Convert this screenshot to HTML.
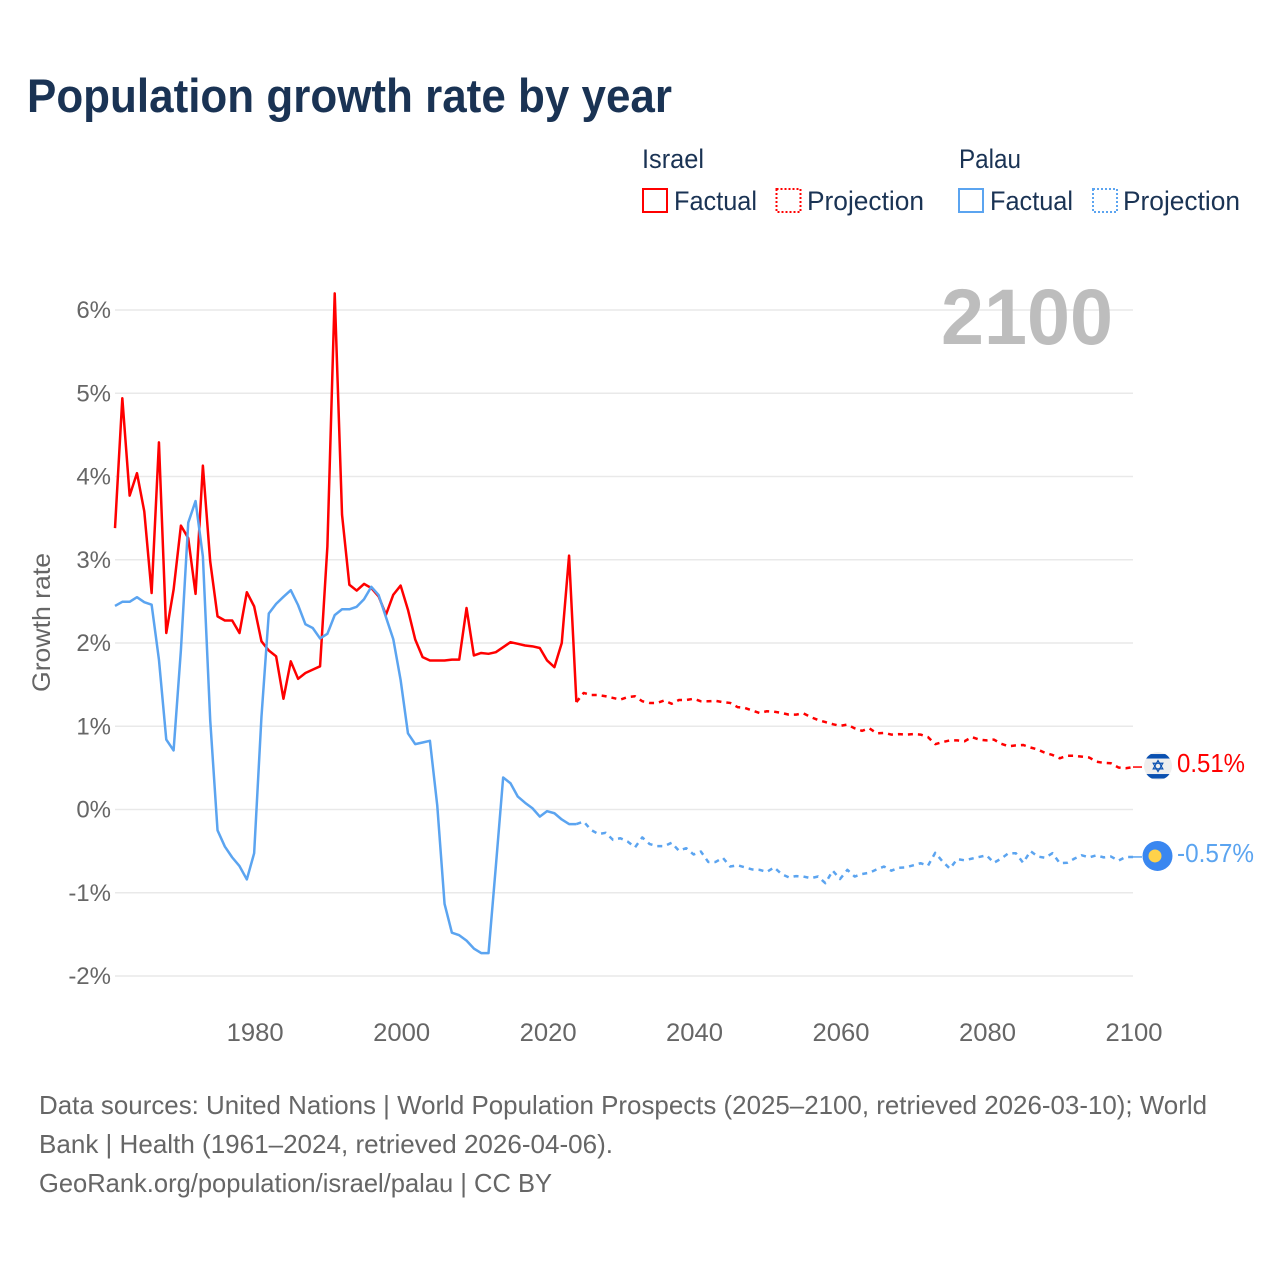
<!DOCTYPE html>
<html lang="en">
<head>
<meta charset="utf-8">
<title>Population growth rate by year</title>
<style>
html,body{margin:0;padding:0;background:#fff;width:1280px;height:1280px;overflow:hidden}
svg{display:block}
text{font-family:"Liberation Sans",sans-serif}
</style>
</head>
<body>
<svg id="chart" xmlns="http://www.w3.org/2000/svg" width="1280" height="1280" viewBox="0 0 1280 1280">
  <rect width="1280" height="1280" fill="#fff"/>
  <text x="27" y="112" font-size="47" font-weight="700" fill="#1a3354" textLength="645" lengthAdjust="spacingAndGlyphs">Population growth rate by year</text>

  <g font-size="27" fill="#1a3354">
    <text x="642" y="168" textLength="62" lengthAdjust="spacingAndGlyphs">Israel</text>
    <rect x="643" y="189" width="24" height="23" fill="none" stroke="#ff0000" stroke-width="2"/>
    <text x="674" y="210" textLength="83" lengthAdjust="spacingAndGlyphs">Factual</text>
    <rect x="776.5" y="189" width="24" height="23" fill="none" stroke="#ff0000" stroke-width="2" stroke-dasharray="2,2"/>
    <text x="807" y="210" textLength="117" lengthAdjust="spacingAndGlyphs">Projection</text>
    <text x="959" y="168" textLength="62" lengthAdjust="spacingAndGlyphs">Palau</text>
    <rect x="959" y="189" width="24" height="23" fill="none" stroke="#5ba4f0" stroke-width="2"/>
    <text x="990" y="210" textLength="83" lengthAdjust="spacingAndGlyphs">Factual</text>
    <rect x="1093" y="189" width="24" height="23" fill="none" stroke="#5ba4f0" stroke-width="2" stroke-dasharray="2,2"/>
    <text x="1123" y="210" textLength="117" lengthAdjust="spacingAndGlyphs">Projection</text>
  </g>

  <g id="grid"></g>
  <g id="y-ticks"></g>
  <g id="x-ticks"></g>
  <text transform="translate(50,692) rotate(-90)" font-size="25" fill="#666" textLength="139" lengthAdjust="spacingAndGlyphs">Growth rate</text>
  <text x="941" y="344" font-size="79" font-weight="700" fill="#bdbdbd" textLength="172" lengthAdjust="spacingAndGlyphs">2100</text>

  <g id="lines"></g>

  <g id="end-israel">
    <line id="conn-israel" x2="1142" stroke="#ff0000" stroke-width="1.5"/>
    <g id="flag-israel">
      <clipPath id="clip-il"><circle cx="0" cy="0" r="14"/></clipPath>
      <circle cx="0" cy="0" r="14" fill="#eeeeee"/>
      <g clip-path="url(#clip-il)">
        <rect x="-15" y="-12" width="30" height="4.5" fill="#0a50b0"/>
        <rect x="-15" y="8" width="30" height="4.5" fill="#0a50b0"/>
      </g>
      <polygon points="0,-5.5 4.8,2.8 -4.8,2.8" fill="none" stroke="#0a50b0" stroke-width="1.2"/>
      <polygon points="0,5.5 4.8,-2.8 -4.8,-2.8" fill="none" stroke="#0a50b0" stroke-width="1.2"/>
    </g>
    <text id="label-israel" x="1177" font-size="26" fill="#ff0000" textLength="68" lengthAdjust="spacingAndGlyphs">0.51%</text>
  </g>
  <g id="end-palau">
    <line id="conn-palau" x2="1142" stroke="#5ba4f0" stroke-width="1.5"/>
    <g id="flag-palau">
      <circle cx="0" cy="0" r="15" fill="#3a87f0"/>
      <circle cx="-2.5" cy="0" r="6.5" fill="#ffd24a"/>
    </g>
    <text id="label-palau" x="1177" font-size="26" fill="#5ba4f0" textLength="77" lengthAdjust="spacingAndGlyphs">-0.57%</text>
  </g>

  <g font-size="26" fill="#666">
    <text x="39" y="1114" textLength="1168" lengthAdjust="spacingAndGlyphs">Data sources: United Nations | World Population Prospects (2025–2100, retrieved 2026-03-10); World</text>
    <text x="39" y="1153" textLength="574" lengthAdjust="spacingAndGlyphs">Bank | Health (1961–2024, retrieved 2026-04-06).</text>
    <text x="39" y="1192" textLength="513" lengthAdjust="spacingAndGlyphs">GeoRank.org/population/israel/palau | CC BY</text>
  </g>
</svg>
<script>
const factualStartYear = 1961;
const projectionStartYear = 2024;
const xTickYears = [1980, 2000, 2020, 2040, 2060, 2080, 2100];
const yTickValues = [-2, -1, 0, 1, 2, 3, 4, 5, 6];

const israelFactual = [3.38,4.94,3.77,4.04,3.58,2.60,4.41,2.12,2.64,3.41,3.26,2.59,4.13,2.98,2.32,2.27,2.27,2.12,2.61,2.44,
  2.02,1.91,1.84,1.33,1.78,1.57,1.64,1.68,1.72,3.16,6.20,3.54,2.70,2.63,2.71,2.66,2.56,2.34,2.58,2.69,
  2.40,2.04,1.83,1.79,1.79,1.79,1.80,1.80,2.42,1.85,1.88,1.87,1.89,1.95,2.01,1.99,1.97,1.96,1.94,1.79,
  1.71,2.00,3.05,1.29];
const israelProjection = [1.29,1.40,1.375,1.375,1.36,1.34,1.32,1.35,1.36,1.30,1.28,1.28,1.31,1.27,1.315,1.315,1.33,1.30,1.30,1.305,
  1.29,1.28,1.23,1.22,1.19,1.16,1.18,1.175,1.16,1.14,1.14,1.155,1.11,1.075,1.05,1.025,1.005,1.02,0.975,0.945,
  0.975,0.915,0.92,0.90,0.905,0.90,0.905,0.90,0.87,0.785,0.81,0.83,0.83,0.82,0.87,0.84,0.83,0.84,0.79,0.76,
  0.77,0.775,0.745,0.72,0.68,0.655,0.615,0.645,0.645,0.635,0.625,0.575,0.56,0.555,0.505,0.495,0.51];
const palauFactual = [2.445,2.495,2.495,2.55,2.49,2.46,1.80,0.84,0.71,1.915,3.445,3.705,3.04,1.075,-0.25,-0.445,-0.575,-0.68,-0.84,-0.525,
  1.115,2.355,2.47,2.555,2.635,2.455,2.225,2.18,2.055,2.11,2.335,2.405,2.405,2.435,2.525,2.675,2.575,2.31,2.045,1.555,
  0.915,0.785,0.805,0.825,0.05,-1.135,-1.48,-1.51,-1.575,-1.67,-1.725,-1.725,-0.685,0.385,0.315,0.155,0.08,0.015,-0.085,-0.02,
  -0.045,-0.12,-0.175,-0.175];
const palauProjection = [-0.175,-0.145,-0.245,-0.295,-0.28,-0.365,-0.345,-0.385,-0.455,-0.335,-0.415,-0.44,-0.44,-0.40,-0.495,-0.465,-0.54,-0.505,-0.63,-0.63,
  -0.58,-0.685,-0.67,-0.695,-0.72,-0.725,-0.75,-0.695,-0.775,-0.815,-0.80,-0.805,-0.825,-0.805,-0.885,-0.735,-0.835,-0.725,-0.805,-0.775,
  -0.76,-0.72,-0.685,-0.735,-0.70,-0.695,-0.67,-0.645,-0.675,-0.52,-0.625,-0.71,-0.595,-0.61,-0.59,-0.57,-0.55,-0.64,-0.59,-0.525,
  -0.525,-0.64,-0.50,-0.565,-0.58,-0.525,-0.645,-0.64,-0.59,-0.55,-0.575,-0.55,-0.575,-0.565,-0.615,-0.57,-0.57];

const SVGNS = 'http://www.w3.org/2000/svg';
function xScale(year) { return 115 + (year - 1961) * (1133 - 115) / (2100 - 1961); }
function yScale(v) { return 809.5 - v * 83.25; }
function pathFor(values, startYear) {
  return values.map(function (v, i) {
    return (i ? 'L' : 'M') + xScale(startYear + i).toFixed(2) + ' ' + yScale(v).toFixed(2);
  }).join(' ');
}

const gridGroup = document.getElementById('grid');
const yTickGroup = document.getElementById('y-ticks');
yTickValues.forEach(function (v) {
  const line = document.createElementNS(SVGNS, 'line');
  
  
  line.setAttribute('x1', xScale(1961));
  line.setAttribute('x2', xScale(2100));
  line.setAttribute('y1', yScale(v));
  line.setAttribute('y2', yScale(v));
  line.setAttribute('stroke', '#e9e9e9');
  line.setAttribute('stroke-width', '1.4');
  gridGroup.appendChild(line);

  const label = document.createElementNS(SVGNS, 'text');
  
  
  label.setAttribute('x', 111);
  label.setAttribute('y', yScale(v) + 8);
  label.setAttribute('text-anchor', 'end');
  label.setAttribute('font-size', '24');
  label.setAttribute('fill', '#666');
  label.textContent = v + '%';
  yTickGroup.appendChild(label);
});

const xTickGroup = document.getElementById('x-ticks');
xTickYears.forEach(function (yr) {
  const label = document.createElementNS(SVGNS, 'text');
  
  
  label.setAttribute('x', xScale(yr) - 27.5);
  label.setAttribute('y', 1041);
  label.setAttribute('font-size', '25');
  label.setAttribute('fill', '#666');
  label.setAttribute('textLength', '57');
  label.setAttribute('lengthAdjust', 'spacingAndGlyphs');
  label.textContent = yr;
  xTickGroup.appendChild(label);
});

const lineGroup = document.getElementById('lines');
function addLine(name, values, startYear, color, dashed) {
  const p = document.createElementNS(SVGNS, 'path');
  
  
  p.setAttribute('d', pathFor(values, startYear));
  p.setAttribute('fill', 'none');
  p.setAttribute('stroke', color);
  p.setAttribute('stroke-width', '2.5');
  p.setAttribute('stroke-linejoin', 'round');
  if (dashed) p.setAttribute('stroke-dasharray', '5,5');
  lineGroup.appendChild(p);
}
addLine('line-israel-factual', israelFactual, factualStartYear, '#ff0000', false);
addLine('line-israel-projection', israelProjection, projectionStartYear, '#ff0000', true);
addLine('line-palau-factual', palauFactual, factualStartYear, '#5ba4f0', false);
addLine('line-palau-projection', palauProjection, projectionStartYear, '#5ba4f0', true);

function placeEnd(key, values, flagX, labelDy) {
  const last = values[values.length - 1];
  const y = yScale(last);
  const conn = document.getElementById('conn-' + key);
  conn.setAttribute('x1', xScale(2100));
  conn.setAttribute('y1', y);
  conn.setAttribute('y2', y);
  document.getElementById('flag-' + key).setAttribute('transform', 'translate(' + flagX + ',' + (y - 1) + ')');
  document.getElementById('label-' + key).setAttribute('y', y + labelDy);
}
placeEnd('israel', israelProjection, 1158, 5);
placeEnd('palau', palauProjection, 1157.5, 5);
</script>
</body>
</html>
